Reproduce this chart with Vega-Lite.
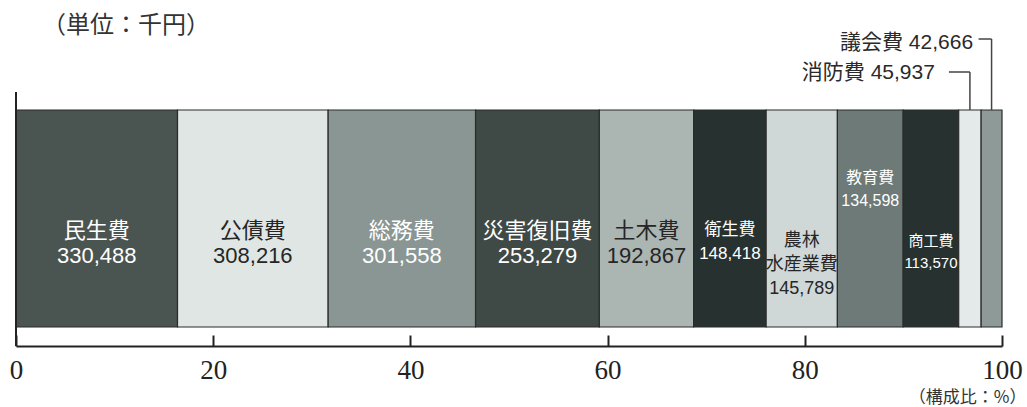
{
  "$schema": "https://vega.github.io/schema/vega-lite/v6.json",
  "width": 986,
  "height": 316,
  "autosize": {"type": "none"},
  "padding": {"left": 16, "top": 30, "right": 25, "bottom": 61},
  "background": "white",
  "config": {"view": {"stroke": null}, "font": "Liberation Sans, Noto Sans CJK JP"},
  "title": {"text": "（単位：千円）", "anchor": "start", "frame": "group", "font": "Noto Sans CJK JP", "fontSize": 24, "fontWeight": "normal", "color": "#333333", "dx": 26, "dy": 24, "baseline": "middle", "offset": 4},
  "data": {"values": [
    {"category": "民生費", "label": "民生費", "value": 330488},
    {"category": "公債費", "label": "公債費", "value": 308216},
    {"category": "総務費", "label": "総務費", "value": 301558},
    {"category": "災害復旧費", "label": "災害復旧費", "value": 253279},
    {"category": "土木費", "label": "土木費", "value": 192867},
    {"category": "衛生費", "label": "衛生費", "value": 148418},
    {"category": "農林水産業費", "label": "農林|水産業費", "value": 145789},
    {"category": "教育費", "label": "教育費", "value": 134598},
    {"category": "商工費", "label": "商工費", "value": 113570},
    {"category": "消防費", "label": "消防費", "value": 45937},
    {"category": "議会費", "label": "議会費", "value": 42666}
  ]},
  "transform": [
    {"stack": "value", "groupby": [], "sort": [{"field": "value", "order": "descending"}], "as": ["s0", "s1"], "offset": "normalize"},
    {"calculate": "datum.s0*100", "as": "p0"},
    {"calculate": "datum.s1*100", "as": "p1"},
    {"calculate": "(datum.p0+datum.p1)/2", "as": "mid"},
    {"calculate": "split(datum.label + '|' + format(datum.value, ','), '|')", "as": "lines"},
    {"calculate": "datum.label + ' ' + format(datum.value, ',')", "as": "oneline"}
  ],
  "layer": [
    {
      "mark": {"type": "bar", "stroke": "#2b2b2b", "strokeWidth": 1.2},
      "encoding": {
        "x": {"field": "p0", "type": "quantitative", "scale": {"domain": [0, 100], "nice": false},
          "axis": {"values": [0, 20, 40, 60, 80, 100], "grid": false, "domainColor": "#222222", "domainWidth": 2, "tickColor": "#222222", "tickWidth": 2, "tickSize": -11, "labelFont": "Liberation Serif", "labelFontSize": 27, "labelColor": "#222222", "labelPadding": 22, "labelFlush": false,
            "title": "（構成比：%）", "titleFont": "Noto Sans CJK JP", "titleFontSize": 17, "titleFontWeight": "normal", "titleColor": "#333333", "titleAnchor": "end", "titleAlign": "right", "titleX": 1010, "titleY": 51, "titleBaseline": "middle"}},
        "x2": {"field": "p1"},
        "y": {"datum": 6.01, "type": "quantitative", "scale": {"domain": [0, 100], "nice": false}, "axis": null},
        "y2": {"datum": 74.68},
        "color": {"field": "category", "type": "nominal", "legend": null,
          "scale": {"domain": ["民生費", "公債費", "総務費", "災害復旧費", "土木費", "衛生費", "農林水産業費", "教育費", "商工費", "消防費", "議会費"],
            "range": ["#4a5551", "#dfe6e4", "#8a9693", "#3f4946", "#abb5b2", "#273230", "#cfd8d6", "#6d7a77", "#263130", "#e4eaea", "#8e9a98"]}}
      }
    },
    {
      "mark": {"type": "rule", "stroke": "#222222", "strokeWidth": 2},
      "encoding": {"x": {"datum": 0, "type": "quantitative"}, "y": {"datum": 0, "type": "quantitative"}, "y2": {"datum": 80.38}}
    },
    {
      "transform": [{"filter": "indexof(['民生費','公債費','総務費','災害復旧費','土木費'], datum.category) >= 0"}],
      "mark": {"type": "text", "fontSize": 22, "lineHeight": 25, "baseline": "middle", "align": "center"},
      "encoding": {
        "x": {"field": "mid", "type": "quantitative"},
        "y": {"datum": 36.39, "type": "quantitative"},
        "text": {"field": "lines"},
        "color": {"condition": {"test": "indexof(['公債費','土木費','農林水産業費'], datum.category) >= 0", "value": "#262626"}, "value": "#ffffff"}
      }
    },
    {
      "transform": [{"filter": "datum.category == '衛生費'"}],
      "mark": {"type": "text", "fontSize": 17, "lineHeight": 24, "baseline": "middle", "align": "center", "color": "#ffffff"},
      "encoding": {"x": {"field": "mid", "type": "quantitative"}, "y": {"datum": 36.71, "type": "quantitative"}, "text": {"field": "lines"}}
    },
    {
      "transform": [{"filter": "datum.category == '農林水産業費'"}],
      "mark": {"type": "text", "fontSize": 18, "lineHeight": 24, "baseline": "middle", "align": "center", "color": "#262626"},
      "encoding": {"x": {"field": "mid", "type": "quantitative"}, "y": {"datum": 33.23, "type": "quantitative"}, "text": {"field": "lines"}}
    },
    {
      "transform": [{"filter": "datum.category == '教育費'"}],
      "mark": {"type": "text", "fontSize": 16, "lineHeight": 23, "baseline": "middle", "align": "center", "color": "#ffffff"},
      "encoding": {"x": {"field": "mid", "type": "quantitative"}, "y": {"datum": 53.01, "type": "quantitative"}, "text": {"field": "lines"}}
    },
    {
      "transform": [{"filter": "datum.category == '商工費'"}],
      "mark": {"type": "text", "fontSize": 15, "lineHeight": 22, "baseline": "middle", "align": "center", "color": "#ffffff"},
      "encoding": {"x": {"field": "mid", "type": "quantitative"}, "y": {"datum": 33.23, "type": "quantitative"}, "text": {"field": "lines"}}
    },
    {
      "transform": [{"filter": "datum.category == '消防費'"}],
      "mark": {"type": "rule", "stroke": "#444444", "strokeWidth": 1.5},
      "encoding": {"x": {"field": "mid", "type": "quantitative"}, "y": {"datum": 74.68, "type": "quantitative"}, "y2": {"datum": 86.71}}
    },
    {
      "transform": [{"filter": "datum.category == '消防費'"}],
      "mark": {"type": "rule", "stroke": "#444444", "strokeWidth": 1.5, "x2Offset": -21},
      "encoding": {"x": {"field": "mid", "type": "quantitative"}, "x2": {"field": "mid"}, "y": {"datum": 86.71, "type": "quantitative"}}
    },
    {
      "transform": [{"filter": "datum.category == '消防費'"}],
      "mark": {"type": "text", "fontSize": 21, "baseline": "middle", "align": "right", "dx": -35, "color": "#2a2a2a"},
      "encoding": {"x": {"field": "mid", "type": "quantitative"}, "y": {"datum": 86.39, "type": "quantitative"}, "text": {"field": "oneline"}}
    },
    {
      "transform": [{"filter": "datum.category == '議会費'"}],
      "mark": {"type": "rule", "stroke": "#444444", "strokeWidth": 1.5},
      "encoding": {"x": {"field": "mid", "type": "quantitative"}, "y": {"datum": 74.68, "type": "quantitative"}, "y2": {"datum": 97.15}}
    },
    {
      "transform": [{"filter": "datum.category == '議会費'"}],
      "mark": {"type": "rule", "stroke": "#444444", "strokeWidth": 1.5, "x2Offset": -13},
      "encoding": {"x": {"field": "mid", "type": "quantitative"}, "x2": {"field": "mid"}, "y": {"datum": 97.15, "type": "quantitative"}}
    },
    {
      "transform": [{"filter": "datum.category == '議会費'"}],
      "mark": {"type": "text", "fontSize": 21, "baseline": "middle", "align": "right", "dx": -18.5, "color": "#2a2a2a"},
      "encoding": {"x": {"field": "mid", "type": "quantitative"}, "y": {"datum": 95.89, "type": "quantitative"}, "text": {"field": "oneline"}}
    }
  ]
}
